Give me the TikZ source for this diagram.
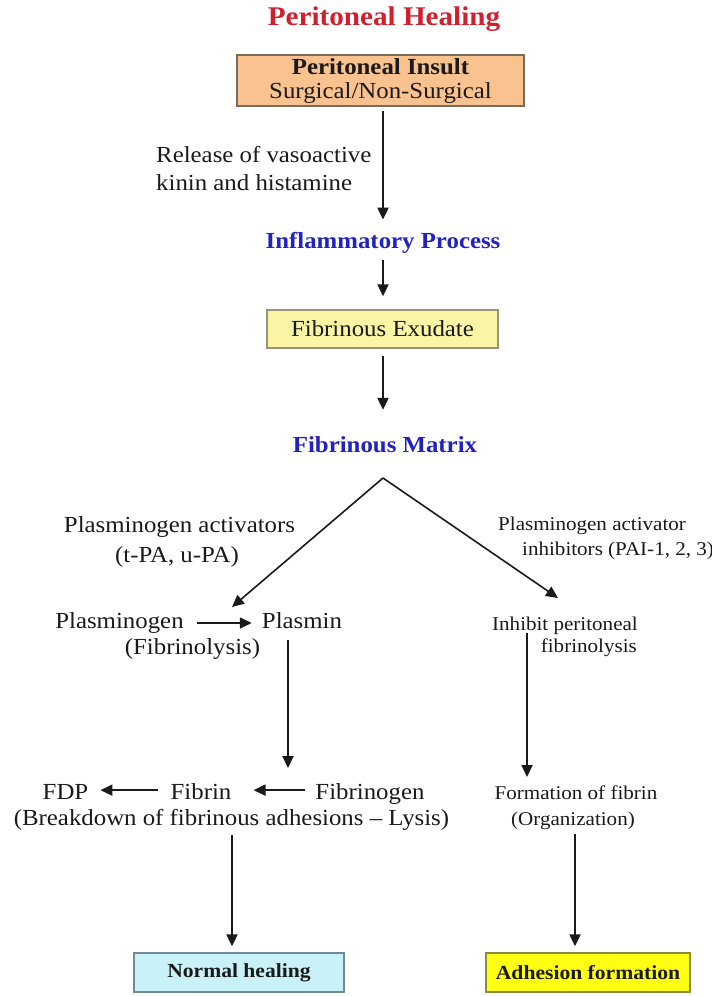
\documentclass[tikz,border=0pt]{standalone}
\usepackage{fontspec}
\setmainfont{Liberation Serif}[FakeStretch=1.08]
\usetikzlibrary{arrows.meta}
\definecolor{titlered}{HTML}{D0202E}
\definecolor{procblue}{HTML}{2222BE}
\definecolor{insultfill}{HTML}{F9C28F}
\definecolor{insultdraw}{HTML}{7A6A5A}
\definecolor{exufill}{HTML}{FAF5A4}
\definecolor{exudraw}{HTML}{9C9478}
\definecolor{normfill}{HTML}{C8F2F8}
\definecolor{normdraw}{HTML}{6E8A92}
\definecolor{adhfill}{HTML}{FFFF14}
\definecolor{adhdraw}{HTML}{8C8A3C}
\definecolor{ink}{HTML}{1A1A1A}
\tikzset{
  txt/.style={inner sep=0pt, anchor=base, text=ink, font=\fontsize{23}{27}\selectfont},
  stxt/.style={inner sep=0pt, anchor=base, text=ink, font=\fontsize{19.5}{23}\selectfont},
  bluehead/.style={inner sep=0pt, anchor=base, text=procblue, font=\fontsize{23}{27}\selectfont\bfseries},
  boxnode/.style={draw, line width=1.4pt, inner sep=0pt, text=ink, align=center},
  arr/.style={draw=ink, line width=2pt, -{Triangle[length=12pt,width=11pt]}},
}
\begin{document}
\begin{tikzpicture}[x=1pt,y=-1pt]
\useasboundingbox (0,0) rectangle (712,996);

% title
\node[inner sep=0pt, anchor=base, text=titlered, font=\fontsize{27}{30}\selectfont\bfseries] (title) at (384,25) {Peritoneal Healing};

% insult box
\node[boxnode, fill=insultfill, draw=insultdraw, minimum width=287pt, minimum height=51pt,
      font=\fontsize{23}{24}\selectfont] (insult) at (380.5,80.5)
      {\rule{0pt}{17pt}{\bfseries Peritoneal Insult}\\Surgical/Non-Surgical};

% release label
\node[txt, anchor=base west] (rel1) at (156,162) {Release of vasoactive};
\node[txt, anchor=base west] (rel2) at (156,190) {kinin and histamine};

% inflammatory process
\node[bluehead] (inflam) at (383,248) {Inflammatory Process};

% exudate box
\node[boxnode, fill=exufill, draw=exudraw, minimum width=231pt, minimum height=38pt,
      font=\fontsize{23}{27}\selectfont] (exud) at (382.5,329) {Fibrinous Exudate};

% matrix
\node[bluehead] (matrix) at (385,452) {Fibrinous Matrix};

% arrows top section
\draw[arr, shorten <=4pt, shorten >=12pt] (insult.south -| inflam) -- (inflam.north);
\draw[arr, shorten <=7pt, shorten >=13pt] (inflam.south) -- (exud.north -| inflam);
\draw[arr, shorten <=7pt, shorten >=26pt] (exud.south -| inflam) -- (matrix.north -| inflam);

% branching
\coordinate (apex) at (383,478);
\coordinate (pltip) at (232,607);
\coordinate (pitip) at (558,598);
\draw[arr, line width=1.6pt] (apex) -- (pltip);
\draw[arr, line width=1.6pt] (apex) -- (pitip);

% left branch labels
\node[txt] (pa1) at (179.5,532) {Plasminogen activators};
\node[txt] (pa2) at (177,562) {(t-PA, u-PA)};

% right branch labels
\node[stxt, anchor=base west] (pai1) at (498,530) {Plasminogen activator};
\node[stxt, anchor=base west] (pai2) at (522,555) {inhibitors (PAI-1, 2, 3)};

% plasminogen row
\node[txt] (plg) at (119.5,628) {Plasminogen};
\node[txt] (plm) at (302,628) {Plasmin};
\node[txt] (fibl) at (192.5,654) {(Fibrinolysis)};
\draw[arr, line width=1.6pt, shorten <=13pt, shorten >=10pt] ([yshift=-0.5pt]plg.east) -- ([yshift=-0.5pt]plg.east -| plm.west);

% inhibit
\node[stxt, anchor=base east] (inh1) at (638,630) {Inhibit peritoneal};
\node[stxt, anchor=base east] (inh2) at (637,652) {fibrinolysis};

% fibrin row
\node[txt] (fdp) at (65.5,799) {FDP};
\node[txt] (fbn) at (201,799) {Fibrin};
\node[txt] (fbg) at (370,799) {Fibrinogen};
\node[txt] (brk) at (231.5,825) {(Breakdown of fibrinous adhesions -- Lysis)};
\draw[arr, shorten <=10pt, shorten >=22pt] ([yshift=1pt]fbg.west |- fbn.east) -- ([yshift=1pt]fbn.east);
\draw[arr, shorten <=12pt, shorten >=12pt] ([yshift=1pt]fbn.west) -- ([yshift=1pt]fdp.east |- fbn.west);

% plasmin down arrow
\coordinate (plmdown) at (288,640);
\coordinate (fibtip) at (288,768);
\draw[arr] (plmdown) -- (fibtip);

% formation
\node[stxt] (form1) at (576,799) {Formation of fibrin};
\node[stxt] (form2) at (573,825) {(Organization)};

% inhibit down arrow
\coordinate (inhdown) at (527,633);
\coordinate (formtip) at (527,777);
\draw[arr, line width=1.8pt] (inhdown) -- (formtip);

% bottom boxes
\node[boxnode, fill=normfill, draw=normdraw, minimum width=210pt, minimum height=39pt,
      font=\fontsize{20}{24}\selectfont\bfseries] (normal) at (239,972.5) {Normal healing};
\node[boxnode, fill=adhfill, draw=adhdraw, minimum width=204pt, minimum height=39pt,
      font=\fontsize{20}{24}\selectfont\bfseries] (adh) at (588,972.5) {Adhesion formation};

\draw[arr, shorten <=5pt, shorten >=6pt] (brk.south -| 232,0) -- (normal.north -| 232,0);
\draw[arr, shorten <=5pt, shorten >=6pt] (form2.south -| 575,0) -- (adh.north -| 575,0);
\end{tikzpicture}
\end{document}
